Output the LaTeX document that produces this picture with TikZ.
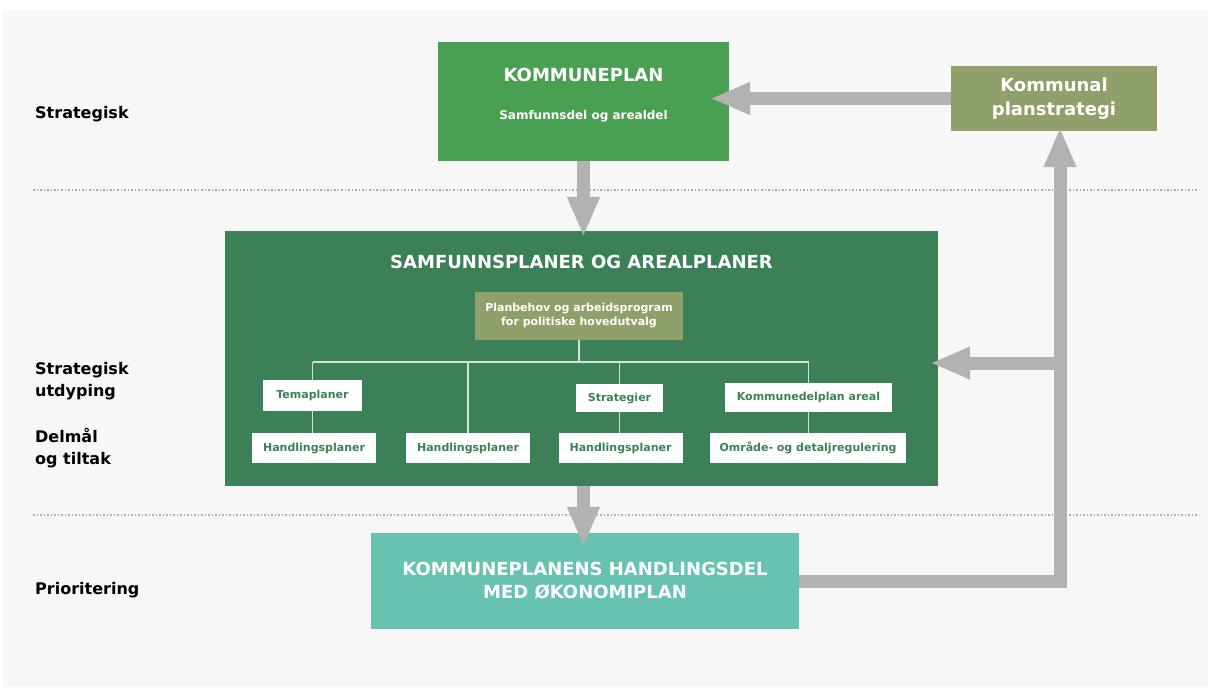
\documentclass[tikz,border=0pt]{standalone}
\usepackage{fontspec}
\setmainfont{DejaVu Sans}
\usetikzlibrary{positioning,calc,arrows.meta}
\definecolor{pagebg}{RGB}{247, 247, 247}
\definecolor{kpgreen}{RGB}{74, 160, 82}
\definecolor{olive}{RGB}{143, 160, 106}
\definecolor{darkgreen}{RGB}{59, 128, 86}
\definecolor{teal}{RGB}{103, 194, 176}
\definecolor{arrowgray}{RGB}{178, 178, 178}
\definecolor{treeline}{RGB}{205, 228, 208}
\definecolor{dotgreen}{RGB}{150, 185, 150}

\tikzset{
    bigarrow/.style={draw=arrowgray, line width=13pt, line join=miter,
        -{Triangle[length=40pt,width=30pt]}},
    whitebox/.style={fill=white, text=darkgreen, inner sep=0pt,
        font=\fontsize{11}{13}\selectfont\bfseries},
    leftlabel/.style={anchor=west, align=left, text=black, inner sep=0pt,
        font=\fontsize{16}{22}\selectfont\bfseries},
}

\begin{document}
\begin{tikzpicture}[x=1pt, y=-1pt]
    % Canvas
    \useasboundingbox (0,0) rectangle (1208,697);
    \fill[white] (0,0) rectangle (1208,697);
    \fill[pagebg] (3,10) rectangle (1208,687);

    % Level separators
    \draw[dotgreen, line width=1.5pt, dash pattern=on 1.5pt off 2pt] (33,190) -- (1198,190);
    \draw[dotgreen, line width=1.5pt, dash pattern=on 1.5pt off 2pt] (33,515) -- (1198,515);

    % Level labels
    \node[leftlabel] (lstrat) at (35,114) {Strategisk};
    \node[leftlabel] (lutd) at (35,381) {Strategisk\\utdyping};
    \node[leftlabel] (ldelm) at (35,448) {Delmål\\og tiltak};
    \node[leftlabel] (lprio) at (35,590) {Prioritering};

    % Top boxes
    \node[fill=kpgreen, minimum width=291, minimum height=119, inner sep=0pt] (kp) at (583.5,101.5) {};
    \node[text=white, font=\fontsize{18}{22}\selectfont\bfseries] (kptitle) at (583.5,75) {KOMMUNEPLAN};
    \node[text=white, font=\fontsize{12}{14}\selectfont\bfseries] (kpsub) at (583.5,116) {Samfunnsdel og arealdel};
    \node[fill=olive, text=white, minimum width=206, minimum height=65, inner sep=0pt, align=center,
        font=\fontsize{18}{24}\selectfont\bfseries] (kps) at (1054,98.5) {Kommunal\\planstrategi};

    % Middle box
    \node[fill=darkgreen, minimum width=713, minimum height=255, inner sep=0pt] (samf) at (581.5,358.5) {};
    \node[text=white, font=\fontsize{18}{22}\selectfont\bfseries] (samftitle) at (581.5,262) {SAMFUNNSPLANER OG AREALPLANER};
    \node[fill=olive, text=white, minimum width=208, minimum height=48, inner sep=0pt, align=center,
        font=\fontsize{11}{14}\selectfont\bfseries] (plb) at (579,316) {Planbehov og arbeidsprogram\\for politiske hovedutvalg};

    \node[whitebox, minimum width=99, minimum height=31] (tema) at (312.5,395.5) {Temaplaner};
    \node[whitebox, minimum width=87, minimum height=28] (stg) at (619.5,398) {Strategier};
    \node[whitebox, minimum width=167, minimum height=29] (kda) at (808.5,397.5) {Kommunedelplan areal};
    \node[whitebox, minimum width=124, minimum height=30] (hp1) at (314,448) {Handlingsplaner};
    \node[whitebox, minimum width=124, minimum height=30] (hp2) at (468,448) {Handlingsplaner};
    \node[whitebox, minimum width=124, minimum height=30] (hp3) at (620.5,448) {Handlingsplaner};
    \node[whitebox, minimum width=196, minimum height=30] (omr) at (808,448) {Område- og detaljregulering};

    % Tree lines
    \coordinate (hub) at (0,362);
    \draw[treeline, line width=1.2pt] (plb.south) -- (plb.south |- hub);
    \draw[treeline, line width=1.2pt] (tema.north |- hub) -- (kda.north |- hub);
    \draw[treeline, line width=1.2pt] (tema.north |- hub) -- (tema.north);
    \draw[treeline, line width=1.2pt] (hp2.north |- hub) -- (hp2.north);
    \draw[treeline, line width=1.2pt] (stg.north |- hub) -- (stg.north);
    \draw[treeline, line width=1.2pt] (kda.north |- hub) -- (kda.north);
    \draw[treeline, line width=1.2pt] (tema.south) -- (tema.south |- hp1.north);
    \draw[treeline, line width=1.2pt] (stg.south) -- (stg.south |- hp3.north);
    \draw[treeline, line width=1.2pt] (kda.south) -- (kda.south |- omr.north);

    % Bottom box
    \node[fill=teal, text=white, minimum width=428, minimum height=96, inner sep=0pt, align=center,
        font=\fontsize{18}{23}\selectfont\bfseries] (hand) at (585,581) {KOMMUNEPLANENS HANDLINGSDEL\\MED ØKONOMIPLAN};

    % Flow arrows
    \coordinate (riser) at (1060,0);
    \coordinate (branch) at (1060,363);
    \draw[bigarrow] (kps.west) -- ([xshift=-19pt]kps.west -| kp.east);
    \draw[bigarrow] (kp.south) -- ([yshift=-6pt]kp.south |- samf.north);
    \draw[bigarrow] (kp.south |- samf.south) -- ([yshift=-14pt]kp.south |- hand.north);
    \draw[bigarrow] (hand.east) -| ([yshift=4pt]riser |- kps.south);
    \draw[bigarrow] (branch) -- ([xshift=-8pt]samf.east |- branch);
\end{tikzpicture}
\end{document}
